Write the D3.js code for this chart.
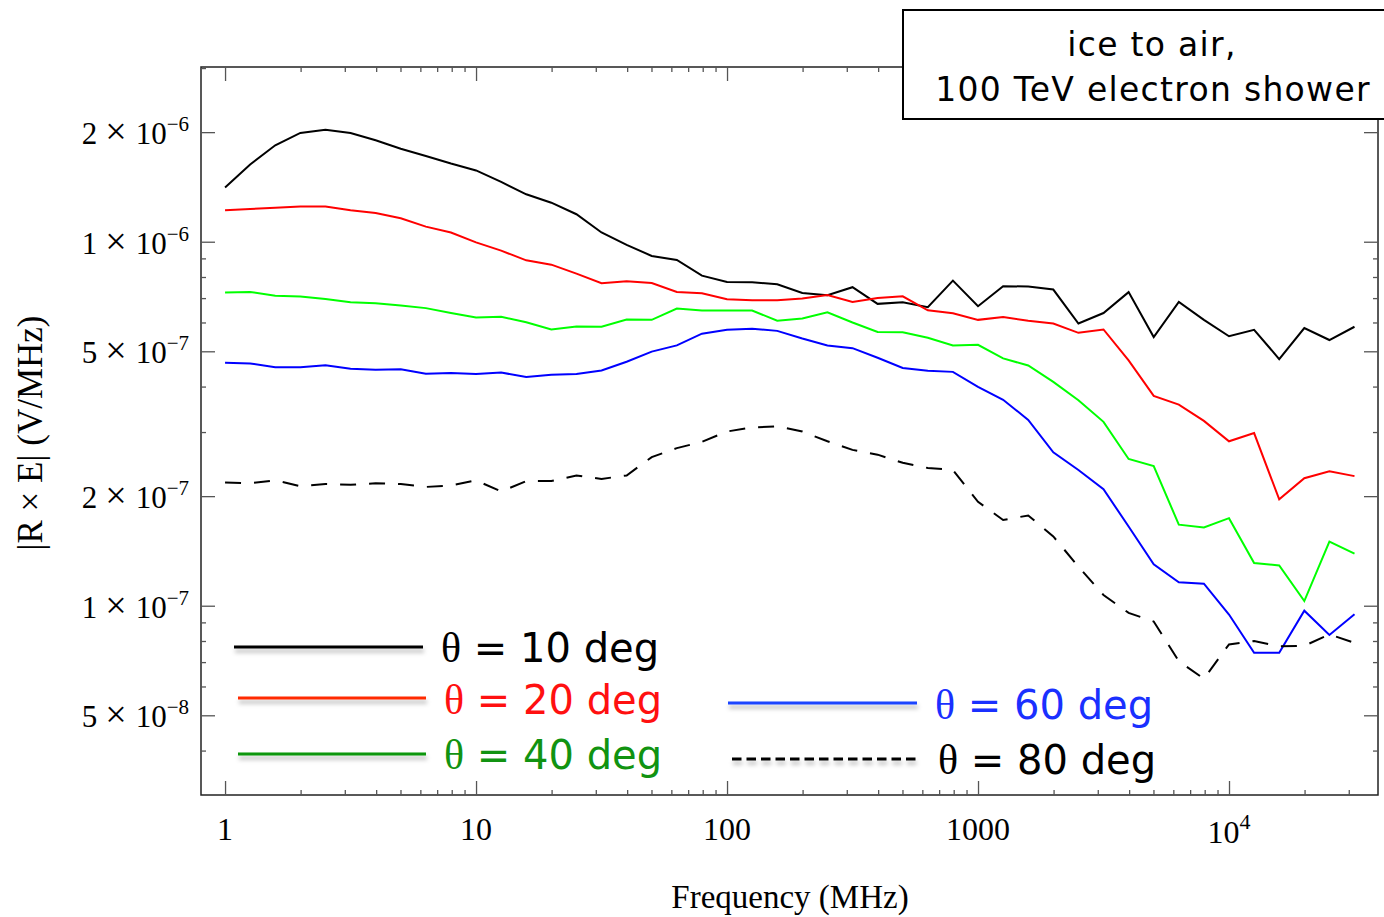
<!DOCTYPE html>
<html>
<head>
<meta charset="utf-8">
<script src="https://cdn.jsdelivr.net/npm/d3@7"></script>
<style>
body { margin: 0; background: #fff; }
</style>
</head>
<body>
<svg id="chart" width="1384" height="917"></svg>
<script>
// frequency samples (MHz), 10 per decade
var freq = [1, 1.259, 1.585, 1.995, 2.512, 3.162, 3.981, 5.012, 6.310, 7.943,
    10, 12.59, 15.85, 19.95, 25.12, 31.62, 39.81, 50.12, 63.10, 79.43,
    100, 125.9, 158.5, 199.5, 251.2, 316.2, 398.1, 501.2, 631.0, 794.3,
    1000, 1259, 1585, 1995, 2512, 3162, 3981, 5012, 6310, 7943,
    10000, 12589, 15849, 19953, 25119, 31623];

// |R x E| in V/MHz
var theta10 = [1.41e-6, 1.63e-6, 1.84e-6, 1.99e-6, 2.03e-6, 1.99e-6, 1.90e-6, 1.80e-6, 1.72e-6, 1.64e-6,
    1.57e-6, 1.46e-6, 1.35e-6, 1.28e-6, 1.19e-6, 1.06e-6, 9.80e-7, 9.14e-7, 8.91e-7, 8.07e-7,
    7.75e-7, 7.74e-7, 7.64e-7, 7.23e-7, 7.13e-7, 7.50e-7, 6.75e-7, 6.82e-7, 6.61e-7, 7.82e-7,
    6.65e-7, 7.55e-7, 7.53e-7, 7.39e-7, 5.96e-7, 6.37e-7, 7.27e-7, 5.47e-7, 6.83e-7, 6.10e-7,
    5.50e-7, 5.73e-7, 4.76e-7, 5.79e-7, 5.37e-7, 5.84e-7];
var theta20 = [1.22e-6, 1.23e-6, 1.24e-6, 1.25e-6, 1.25e-6, 1.22e-6, 1.20e-6, 1.16e-6, 1.10e-6, 1.06e-6,
    9.96e-7, 9.45e-7, 8.89e-7, 8.65e-7, 8.17e-7, 7.69e-7, 7.79e-7, 7.70e-7, 7.28e-7, 7.22e-7,
    6.95e-7, 6.91e-7, 6.91e-7, 6.98e-7, 7.14e-7, 6.83e-7, 7.00e-7, 7.08e-7, 6.48e-7, 6.36e-7,
    6.10e-7, 6.21e-7, 6.07e-7, 5.96e-7, 5.62e-7, 5.74e-7, 4.72e-7, 3.77e-7, 3.57e-7, 3.22e-7,
    2.83e-7, 2.98e-7, 1.96e-7, 2.24e-7, 2.34e-7, 2.27e-7];
var theta40 = [7.25e-7, 7.28e-7, 7.11e-7, 7.07e-7, 6.96e-7, 6.82e-7, 6.78e-7, 6.68e-7, 6.57e-7, 6.37e-7,
    6.19e-7, 6.22e-7, 6.01e-7, 5.74e-7, 5.85e-7, 5.84e-7, 6.11e-7, 6.10e-7, 6.55e-7, 6.47e-7,
    6.47e-7, 6.47e-7, 6.07e-7, 6.15e-7, 6.40e-7, 6.00e-7, 5.65e-7, 5.64e-7, 5.45e-7, 5.19e-7,
    5.21e-7, 4.78e-7, 4.57e-7, 4.12e-7, 3.67e-7, 3.20e-7, 2.53e-7, 2.42e-7, 1.67e-7, 1.64e-7,
    1.74e-7, 1.31e-7, 1.29e-7, 1.03e-7, 1.50e-7, 1.39e-7];
var theta60 = [4.65e-7, 4.63e-7, 4.52e-7, 4.52e-7, 4.58e-7, 4.48e-7, 4.45e-7, 4.46e-7, 4.34e-7, 4.36e-7,
    4.33e-7, 4.37e-7, 4.25e-7, 4.31e-7, 4.33e-7, 4.43e-7, 4.68e-7, 4.99e-7, 5.19e-7, 5.59e-7,
    5.73e-7, 5.77e-7, 5.69e-7, 5.42e-7, 5.19e-7, 5.10e-7, 4.80e-7, 4.50e-7, 4.42e-7, 4.39e-7,
    3.99e-7, 3.68e-7, 3.24e-7, 2.64e-7, 2.36e-7, 2.09e-7, 1.65e-7, 1.30e-7, 1.16e-7, 1.15e-7,
    9.46e-8, 7.43e-8, 7.43e-8, 9.69e-8, 8.31e-8, 9.47e-8];
var theta80 = [2.18e-7, 2.17e-7, 2.21e-7, 2.13e-7, 2.16e-7, 2.15e-7, 2.17e-7, 2.16e-7, 2.12e-7, 2.14e-7,
    2.21e-7, 2.06e-7, 2.20e-7, 2.20e-7, 2.28e-7, 2.23e-7, 2.28e-7, 2.56e-7, 2.71e-7, 2.82e-7,
    3.01e-7, 3.09e-7, 3.11e-7, 3.01e-7, 2.83e-7, 2.68e-7, 2.60e-7, 2.47e-7, 2.39e-7, 2.36e-7,
    1.93e-7, 1.72e-7, 1.77e-7, 1.55e-7, 1.28e-7, 1.07e-7, 9.56e-8, 9.05e-8, 7.04e-8, 6.30e-8,
    7.83e-8, 8.00e-8, 7.74e-8, 7.76e-8, 8.34e-8, 7.91e-8];

var seriesAngles = ["10", "20", "40", "60", "80"];

// axis ticks and labels
var xMajor = [1, 10, 100, 1000, 10000];
var xTickLabels = ["1", "10", "100", "1000", "10"];
var xTickSup = ["", "", "", "", "4"];
var xMinor = [2, 3, 4, 5, 6, 7, 8, 9, 20, 30, 40, 50, 60, 70, 80, 90,
    200, 300, 400, 500, 600, 700, 800, 900, 2000, 3000, 4000, 5000, 6000, 7000, 8000, 9000,
    20000, 30000];
var yMajor = [5e-8, 1e-7, 2e-7, 5e-7, 1e-6, 2e-6];
var yTickMant = ["5", "1", "2", "5", "1", "2"];
var yTickExp = ["\u22128", "\u22127", "\u22127", "\u22127", "\u22126", "\u22126"];
var yMinor = [4e-8, 6e-8, 7e-8, 8e-8, 9e-8, 3e-7, 4e-7, 6e-7, 7e-7, 8e-7, 9e-7, 3e-6];

var svg = d3.select("#chart");
var plotLeft = 201, plotRight = 1378, plotTop = 67, plotBottom = 795;

var x = d3.scaleLog().domain([0.802, 39230]).range([plotLeft, plotRight]);
var y = d3.scaleLog().domain([3.02e-8, 3.02e-6]).range([plotBottom, plotTop]);

var defs = svg.append("defs");
defs.append("filter")
    .attr("id", "shadow")
    .attr("filterUnits", "userSpaceOnUse")
    .attr("x", 0).attr("y", 0).attr("width", 1384).attr("height", 917)
    .append("feDropShadow")
    .attr("dx", 1).attr("dy", 4).attr("stdDeviation", 2.2)
    .attr("flood-color", "#000").attr("flood-opacity", 0.28);

// frame
svg.append("rect")
    .attr("x", plotLeft).attr("y", plotTop)
    .attr("width", plotRight - plotLeft).attr("height", plotBottom - plotTop)
    .attr("fill", "none").attr("stroke", "#222").attr("stroke-width", 1.5);

function ticks(axisFn, scale, values, size, transform) {
    svg.append("g")
        .attr("transform", transform)
        .call(axisFn(scale).tickValues(values).tickSize(size).tickSizeOuter(0).tickFormat(""))
        .call(function(g) { g.select(".domain").remove(); })
        .selectAll("line").attr("stroke", "#555").attr("stroke-width", 1.3);
}

ticks(d3.axisBottom, x, xMajor, -14, "translate(0," + plotBottom + ")");
ticks(d3.axisBottom, x, xMinor, -5, "translate(0," + plotBottom + ")");
ticks(d3.axisTop, x, xMajor, -14, "translate(0," + plotTop + ")");
ticks(d3.axisTop, x, xMinor, -5, "translate(0," + plotTop + ")");
ticks(d3.axisLeft, y, yMajor, -14, "translate(" + plotLeft + ",0)");
ticks(d3.axisLeft, y, yMinor, -5, "translate(" + plotLeft + ",0)");
ticks(d3.axisRight, y, yMajor, -14, "translate(" + plotRight + ",0)");
ticks(d3.axisRight, y, yMinor, -5, "translate(" + plotRight + ",0)");

// x tick labels
var serif = "'Liberation Serif', 'Times New Roman', serif";
xMajor.forEach(function(v, i) {
    var t = svg.append("text")
        .attr("x", x(v)).attr("y", 840 + (xTickSup[i] ? 3 : 0))
        .attr("text-anchor", "middle")
        .attr("font-family", serif).attr("font-size", 32)
        .attr("fill", "#000");
    t.append("tspan").text(xTickLabels[i]);
    if (xTickSup[i]) {
        t.append("tspan").attr("font-size", 22).attr("dy", -14).text(xTickSup[i]);
    }
});

// y tick labels
yMajor.forEach(function(v, i) {
    var t = svg.append("text")
        .attr("x", 189).attr("y", y(v) + 12)
        .attr("text-anchor", "end")
        .attr("font-family", serif).attr("font-size", 31)
        .attr("fill", "#000");
    t.append("tspan").text(yTickMant[i]);
    t.append("tspan").attr("dx", 8).attr("font-size", 38).text("\u00d7");
    t.append("tspan").attr("dx", 9).text("10");
    t.append("tspan").attr("font-size", 21).attr("dy", -13).text(yTickExp[i]);
});

// axis titles
svg.append("text")
    .attr("x", 790).attr("y", 908)
    .attr("text-anchor", "middle")
    .attr("font-family", serif).attr("font-size", 33)
    .text("Frequency (MHz)");
svg.append("text")
    .attr("transform", "translate(42,433) rotate(-90)")
    .attr("text-anchor", "middle")
    .attr("font-family", serif).attr("font-size", 35)
    .text("|R \u00d7 E| (V/MHz)");

// data lines
var allSeries = [theta10, theta20, theta40, theta60, theta80];
var lineColors = ["#000000", "#ff0000", "#00ff00", "#0000ff", "#000000"];
var lineDash = [null, null, null, null, "16,13"];

var line = d3.line()
    .x(function(d) { return x(d[0]); })
    .y(function(d) { return y(d[1]); });

allSeries.forEach(function(vals, k) {
    svg.append("path")
        .datum(d3.zip(freq, vals))
        .attr("d", line)
        .attr("fill", "none")
        .attr("stroke", lineColors[k])
        .attr("stroke-width", 2)
        .attr("stroke-linejoin", "miter")
        .attr("stroke-dasharray", lineDash[k]);
});

// legend
var legendPos = [
    {x1: 234, x2: 423, y: 647, tx: 441, ty: 662},
    {x1: 238, x2: 426, y: 698, tx: 444, ty: 714},
    {x1: 238, x2: 426, y: 754, tx: 444, ty: 769},
    {x1: 728, x2: 917, y: 703, tx: 935, ty: 719},
    {x1: 732, x2: 920, y: 759, tx: 938, ty: 774}
];
var legendLineColors = ["#000000", "#ff2a00", "#0a960a", "#1a44ff", "#000000"];
var legendTextColors = ["#000000", "#ff1010", "#119311", "#1a30ff", "#000000"];
var legendDash = [null, null, null, null, "9.5,5"];
var sans = "'DejaVu Sans', sans-serif";

var legend = svg.append("g");
seriesAngles.forEach(function(a, k) {
    var p = legendPos[k];
    legend.append("line")
        .attr("x1", p.x1).attr("x2", p.x2).attr("y1", p.y).attr("y2", p.y)
        .attr("stroke", legendLineColors[k])
        .attr("stroke-width", 3)
        .attr("stroke-dasharray", legendDash[k])
        .attr("filter", "url(#shadow)");
    var t = legend.append("text")
        .attr("x", p.tx).attr("y", p.ty)
        .attr("font-size", 40)
        .attr("fill", legendTextColors[k]);
    t.append("tspan").attr("font-family", serif).attr("font-size", 42).text("\u03b8");
    t.append("tspan").attr("font-family", sans).text(" = " + a + " deg");
});

// title box
svg.append("rect")
    .attr("x", 903).attr("y", 10)
    .attr("width", 500).attr("height", 109)
    .attr("fill", "#fff").attr("stroke", "#000").attr("stroke-width", 2);
svg.append("text")
    .attr("x", 1152).attr("y", 56)
    .attr("text-anchor", "middle")
    .attr("font-family", sans).attr("font-size", 33)
    .attr("letter-spacing", 1.3)
    .text("ice to air,");
svg.append("text")
    .attr("x", 1153).attr("y", 101)
    .attr("text-anchor", "middle")
    .attr("font-family", sans).attr("font-size", 33)
    .attr("letter-spacing", 1.3)
    .text("100 TeV electron shower");
</script>
</body>
</html>
